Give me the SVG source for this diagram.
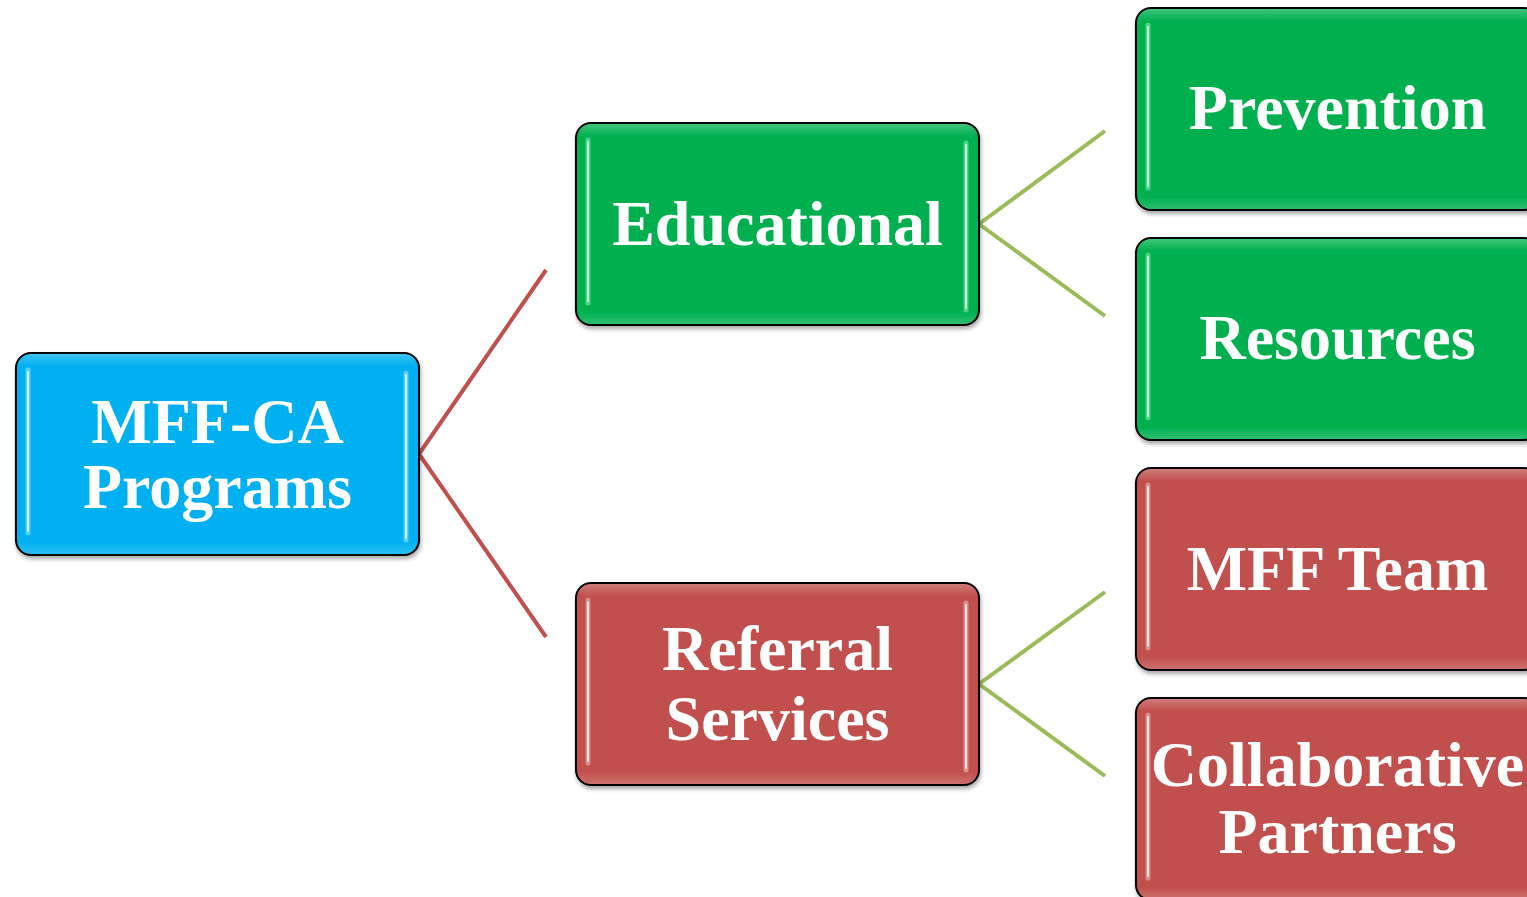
<svg xmlns="http://www.w3.org/2000/svg" width="1527" height="897" viewBox="0 0 1527 897">
  <defs>
    <filter id="drop" x="-5%" y="-5%" width="112%" height="115%">
      <feGaussianBlur in="SourceAlpha" stdDeviation="2"/>
      <feOffset dx="1" dy="3"/>
      <feComponentTransfer><feFuncA type="linear" slope="0.35"/></feComponentTransfer>
      <feMerge><feMergeNode/><feMergeNode in="SourceGraphic"/></feMerge>
    </filter>
    <linearGradient id="sheen" x1="0" y1="0" x2="0" y2="1">
      <stop offset="0" stop-color="#ffffff" stop-opacity="0.25"/>
      <stop offset="0.06" stop-color="#ffffff" stop-opacity="0"/>
      <stop offset="0.94" stop-color="#ffffff" stop-opacity="0"/>
      <stop offset="1" stop-color="#ffffff" stop-opacity="0.18"/>
    </linearGradient>
  </defs>
  <style>
    .box { stroke: #000000; stroke-width: 2; }
    .blue { fill: #00B0F0; }
    .green { fill: #00B050; }
    .red { fill: #C0504D; }
    .sheen { fill: url(#sheen); stroke: none; }
    /* glossy edge strips: soft outer band plus a bright core */
    .hl { stroke-width: 5; stroke-linecap: round; fill: none; stroke-opacity: 0.6; }
    .hl-core { stroke-width: 2; stroke-linecap: round; fill: none; }
    .hl-blue { stroke: #8FE4FF; }
    .hl-green { stroke: #7EEBAE; }
    .hl-red { stroke: #EFB5B3; }
    .core-blue { stroke: #D8F6FF; }
    .core-green { stroke: #D2FADF; }
    .core-red { stroke: #FBE6E5; }
    .label { font-family: "Liberation Serif", "Times New Roman", serif; font-weight: bold; font-size: 64px; fill: #ffffff; text-anchor: middle; }
    .link { fill: none; stroke-width: 4; }
    .link-red { stroke: #C0504D; }
    .link-green { stroke: #9BBB59; }
  </style>
  <rect width="1527" height="897" fill="#ffffff"/>

  <g id="connectors">
    <path class="link link-red" d="M419,454 L546,270 M419,454 L546,637"/>
    <path class="link link-green" d="M979,224 L1105,131 M979,224 L1105,316"/>
    <path class="link link-green" d="M979,684 L1105,592 M979,684 L1105,776"/>
  </g>

  <g id="node-root" filter="url(#drop)">
    <rect class="box blue" x="16" y="353" width="403" height="202" rx="15"/>
    <rect class="sheen" x="17" y="354" width="401" height="200" rx="14"/>
    <path class="hl hl-blue" d="M28,370 V533 M406,373 V540"/>
    <path class="hl-core core-blue" d="M28,372 V531 M406,375 V538"/>
    <text class="label" x="217.5" y="443">MFF-CA</text>
    <text class="label" x="217.5" y="508">Programs</text>
  </g>

  <g id="node-educational" filter="url(#drop)">
    <rect class="box green" x="576" y="123" width="403" height="202" rx="15"/>
    <rect class="sheen" x="577" y="124" width="401" height="200" rx="14"/>
    <path class="hl hl-green" d="M588,140 V303 M966,143 V310"/>
    <path class="hl-core core-green" d="M588,142 V301 M966,145 V308"/>
    <text class="label" x="777.5" y="245">Educational</text>
  </g>

  <g id="node-referral" filter="url(#drop)">
    <rect class="box red" x="576" y="583" width="403" height="202" rx="15"/>
    <rect class="sheen" x="577" y="584" width="401" height="200" rx="14"/>
    <path class="hl hl-red" d="M588,600 V763 M966,603 V770"/>
    <path class="hl-core core-red" d="M588,602 V761 M966,605 V768"/>
    <text class="label" x="777.5" y="670">Referral</text>
    <text class="label" x="777.5" y="740">Services</text>
  </g>

  <g id="node-prevention" filter="url(#drop)">
    <rect class="box green" x="1136" y="8" width="403" height="202" rx="15"/>
    <rect class="sheen" x="1137" y="9" width="401" height="200" rx="14"/>
    <path class="hl hl-green" d="M1148,25 V188"/>
    <path class="hl-core core-green" d="M1148,27 V186"/>
    <text class="label" x="1337.5" y="129">Prevention</text>
  </g>

  <g id="node-resources" filter="url(#drop)">
    <rect class="box green" x="1136" y="238" width="403" height="202" rx="15"/>
    <rect class="sheen" x="1137" y="239" width="401" height="200" rx="14"/>
    <path class="hl hl-green" d="M1148,255 V418"/>
    <path class="hl-core core-green" d="M1148,257 V416"/>
    <text class="label" x="1337.5" y="359">Resources</text>
  </g>

  <g id="node-mff-team" filter="url(#drop)">
    <rect class="box red" x="1136" y="468" width="403" height="202" rx="15"/>
    <rect class="sheen" x="1137" y="469" width="401" height="200" rx="14"/>
    <path class="hl hl-red" d="M1148,485 V648"/>
    <path class="hl-core core-red" d="M1148,487 V646"/>
    <text class="label" x="1337.5" y="590">MFF Team</text>
  </g>

  <g id="node-collaborative" filter="url(#drop)">
    <rect class="box red" x="1136" y="698" width="403" height="202" rx="15"/>
    <rect class="sheen" x="1137" y="699" width="401" height="200" rx="14"/>
    <path class="hl hl-red" d="M1148,715 V878"/>
    <path class="hl-core core-red" d="M1148,717 V876"/>
    <text class="label" x="1337.5" y="786">Collaborative</text>
    <text class="label" x="1337.5" y="853">Partners</text>
  </g>
</svg>
